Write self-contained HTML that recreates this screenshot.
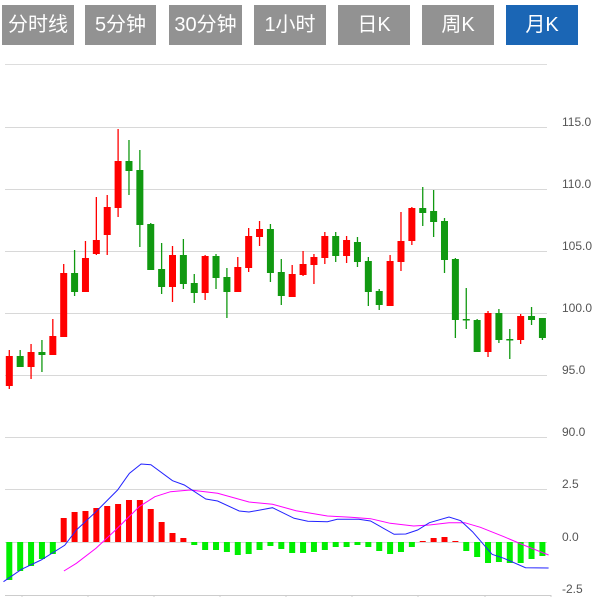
<!DOCTYPE html>
<html><head><meta charset="utf-8"><style>
body{margin:0;width:605px;height:597px;background:#fff;overflow:hidden;position:relative;font-family:"Liberation Sans","Noto Sans CJK SC",sans-serif}
.b{position:absolute;top:5px;height:40px;background:#929292;color:#fff;font-size:20px;line-height:40px;text-align:center}
.a{background:#1b66b5}
svg{position:absolute;left:0;top:0}
</style></head><body>
<div class="b" style="left:2px;width:72px">分时线</div>
<div class="b" style="left:85px;width:71px">5分钟</div>
<div class="b" style="left:169px;width:73px">30分钟</div>
<div class="b" style="left:254px;width:72px">1小时</div>
<div class="b" style="left:338px;width:72px">日K</div>
<div class="b" style="left:422px;width:72px">周K</div>
<div class="b a" style="left:506px;width:72px">月K</div>
<svg id="s" width="605" height="597"></svg>
<script>
var s='';
s+='<line x1="5" y1="64.5" x2="547" y2="64.5" stroke="#ddd"/>';
var g=[[127,'115.0'],[189,'110.0'],[251,'105.0'],[313,'100.0'],[375,'95.0'],[437,'90.0'],[489,'2.5'],[542,'0.0'],[594,'-2.5']];
g.forEach(function(a){if(a[0]<590)s+='<line x1="5" y1="'+(a[0]+.5)+'" x2="547" y2="'+(a[0]+.5)+'" stroke="#d8d8d8"/>';
s+='<text x="562" y="'+(a[0]-1)+'" font-size="12" fill="#555" font-family="Liberation Sans,sans-serif">'+a[1]+'</text>';});
s+='<line x1="5" y1="595.5" x2="551" y2="595.5" stroke="#ccc"/>';
[22,88,154,220,286,352,418,485,551].forEach(function(x){s+='<line x1="'+x+'" y1="595" x2="'+x+'" y2="597" stroke="#ccc"/>'});
var c=[['r',356,386,350,389],['g',356,367,350,367],['r',352,367,344,379],['g',352,355,340,372],['r',336,355,319,355],['r',273,337,264,337],['g',273,292,250,296],['r',258,292,241,292],['r',240,254,197,255],['r',207,235,195,255],['r',161,208,129,217],['g',161,171,140,195],['g',170,225,150,247],['g',224,270,223,270],['g',269,287,243,294],['r',255,287,246,302],['g',255,284,239,289],['g',283,293,274,303],['r',256,293,255,300],['g',256,278,254,289],['g',277,292,268,318],['r',267,292,257,292],['r',236,268,228,272],['r',229,237,221,246],['g',229,273,224,282],['g',272,296,259,305],['r',274,297,265,297],['r',264,275,251,276],['r',257,265,254,284],['r',236,258,232,264],['g',236,256,232,262],['r',240,256,236,263],['g',242,262,237,267],['g',261,292,257,306],['g',291,305,289,310],['r',261,306,255,306],['r',241,262,212,271],['r',208,241,207,245],['g',208,213,187,226],['g',211,222,190,237],['g',221,260,218,273],['g',259,320,258,338],['g',319,320,288,329],['g',320,352,319,352],['r',313,352,311,357],['g',313,340,309,343],['g',339,340,329,359],['r',316,340,314,344],['g',316,320,307,325],['g',318,338,318,340]];
var h=[580,571,566,559,554,518,512,511,508,506,504,500,500,509,522,533,538,545,550,550,552,555,554,550,546,549,553,553,552,550,547,547,545,547,551,554,552,547,541,538,537,541,551,557,563,562,563,563,559,556];
function X(i){return 9.3+i*10.88;}
c.forEach(function(d,i){var x=X(i),col=d[0]=='r'?'#f00':'#119911';
s+='<line x1="'+x+'" y1="'+d[3]+'" x2="'+x+'" y2="'+d[4]+'" stroke="'+col+'" stroke-width="1.3"/>';
s+='<rect x="'+(x-3.5)+'" y="'+d[1]+'" width="7" height="'+Math.max(1.5,d[2]-d[1])+'" fill="'+col+'"/>';});
h.forEach(function(v,i){var x=X(i);var up=v<542;
s+='<rect x="'+(x-3)+'" y="'+Math.min(v,542)+'" width="6" height="'+Math.abs(v-542)+'" fill="'+(up?'#f00':'#00ee00')+'"/>';});
function P(a){return a.map(function(p){return (p[0]/2.55-2).toFixed(1)+','+(440+p[1]/3).toFixed(1)}).join(' ');}
var blue=[[14,425],[60,388],[110,360],[170,316],[200,270],[250,215],[305,150],[335,100],[365,72],[390,74],[445,122],[475,135],[530,177],[560,183],[615,213],[640,216],[700,203],[755,235],[790,244],[840,245],[865,238],[920,238],[950,243],[1010,283],[1040,282],[1070,270],[1100,248],[1150,231],[1180,242],[1210,275],[1260,343],[1290,355],[1345,383],[1404,384]];
var pink=[[168,393],[200,370],[250,325],[300,270],[360,200],[400,170],[440,155],[490,150],[560,160],[640,186],[700,193],[760,212],[840,228],[900,232],[950,236],[1000,250],[1060,258],[1100,255],[1150,248],[1190,248],[1230,262],[1290,290],[1340,315],[1404,345]];
s+='<polyline points="'+P(pink)+'" fill="none" stroke="#f0f" stroke-width="1"/>';
s+='<polyline points="'+P(blue)+'" fill="none" stroke="#22f" stroke-width="1"/>';
document.getElementById('s').innerHTML=s;
</script>
</body></html>
